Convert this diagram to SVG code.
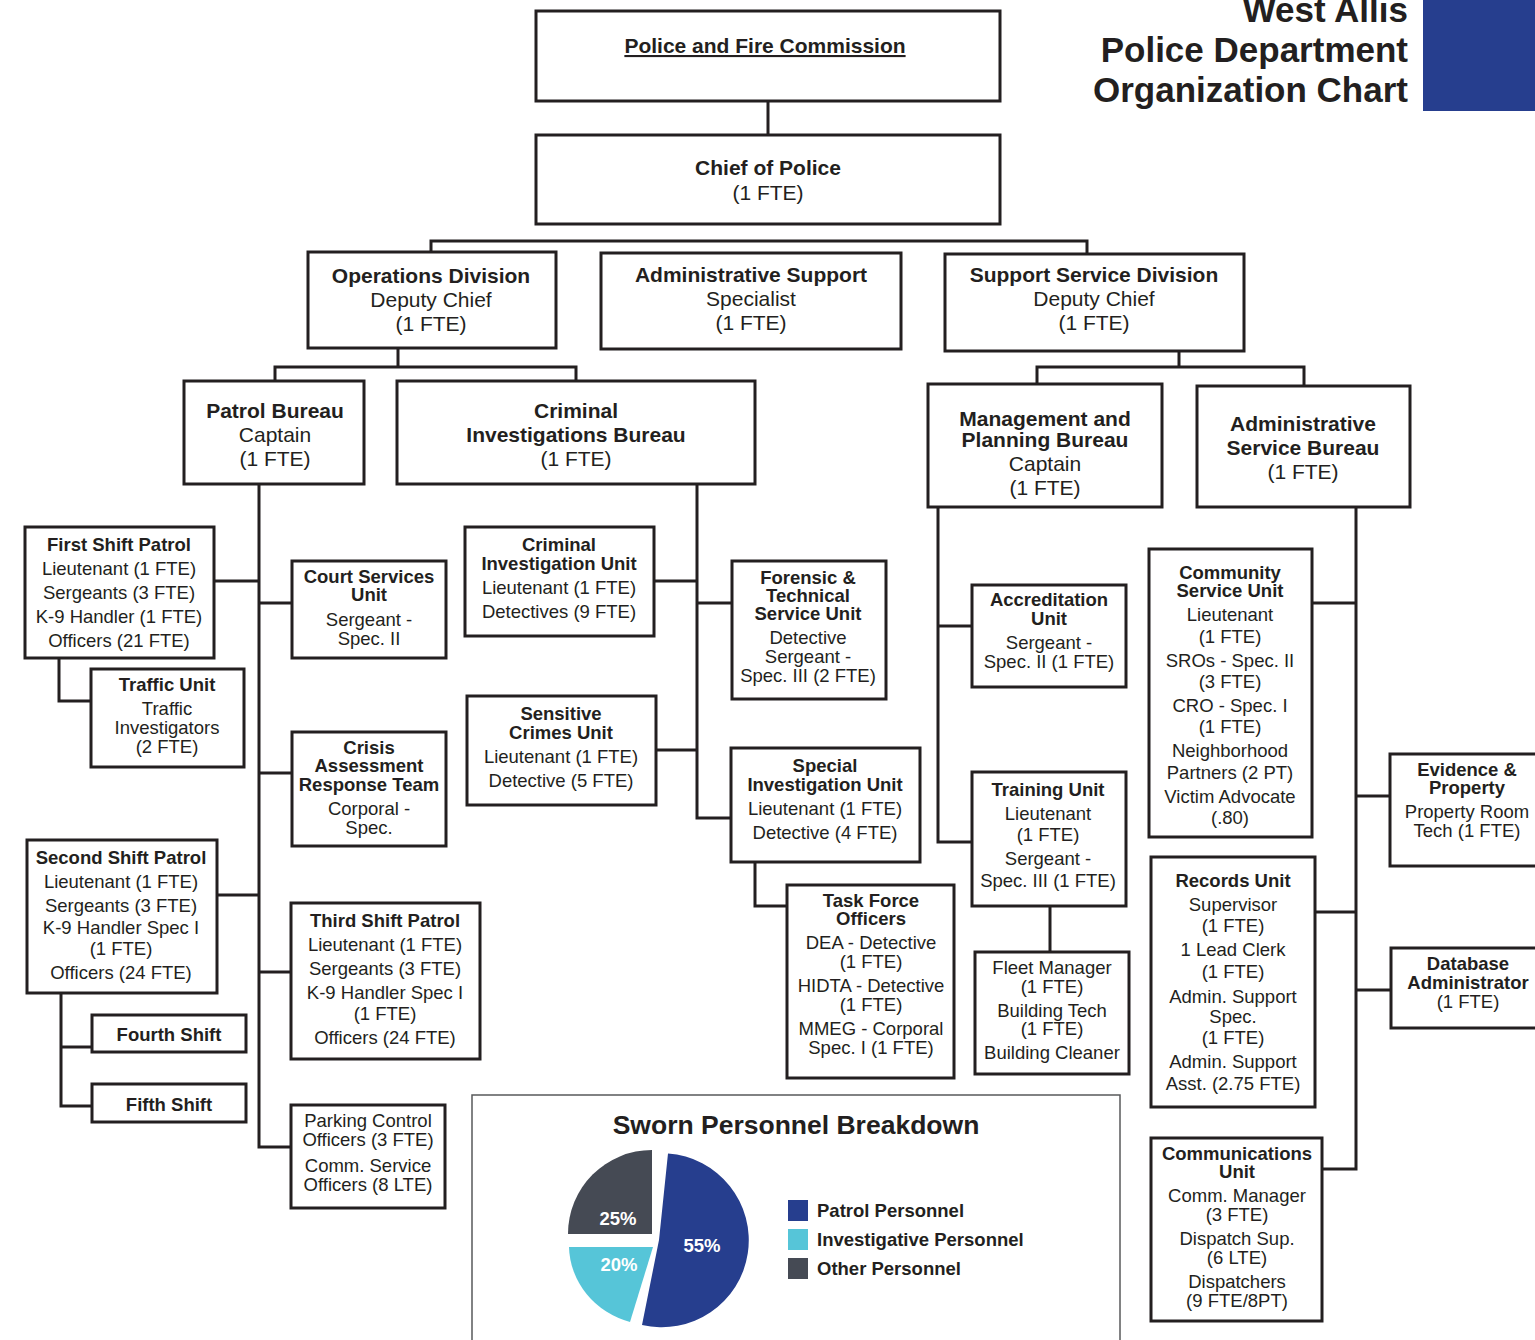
<svg xmlns="http://www.w3.org/2000/svg" width="1535" height="1340" viewBox="0 0 1535 1340">
<style>
.box{fill:#fff;stroke:#231f20;stroke-width:3}
text{font-family:"Liberation Sans",Arial,Helvetica,sans-serif;fill:#231f20;text-anchor:middle}
.b{font-weight:bold}
.s{font-size:18.5px}
.l{font-size:21px}
.conn path{fill:none;stroke:#231f20;stroke-width:3}
.w{fill:#fff;font-weight:bold;font-size:18.5px}
.leg{text-anchor:start;font-weight:bold;font-size:18.5px}
</style>
<rect width="1535" height="1340" fill="#fff"/>

<g id="title">
<rect x="1423" y="0" width="112" height="111" fill="#263e8e"/>
<text x="1408" y="22" font-size="35" font-weight="bold" style="text-anchor:end">West Allis</text>
<text x="1408" y="61.5" font-size="35" font-weight="bold" style="text-anchor:end">Police Department</text>
<text x="1408" y="101.5" font-size="35" font-weight="bold" style="text-anchor:end">Organization Chart</text>
</g>

<g class="conn">
<path d="M768,101V135"/>
<path d="M431,252V241H1087V254"/>
<path d="M398,348V367"/>
<path d="M275,381V367H576V381"/>
<path d="M1179,351V367"/>
<path d="M1037,384V367H1304V386"/>
<path d="M259,484V1147H291"/>
<path d="M214,581H259"/>
<path d="M259,603H292"/>
<path d="M259,773H292"/>
<path d="M217,895H259"/>
<path d="M259,972H291"/>
<path d="M59,658V701H91"/>
<path d="M61,993V1106H92"/>
<path d="M61,1047H92"/>
<path d="M697,484V818H731"/>
<path d="M654,581H697"/>
<path d="M697,603H732"/>
<path d="M656,750H697"/>
<path d="M755,862V906H787"/>
<path d="M938,507V842H972"/>
<path d="M938,626H972"/>
<path d="M1050,906V952"/>
<path d="M1356,507V1169H1322"/>
<path d="M1312,603H1356"/>
<path d="M1356,796H1390"/>
<path d="M1315,912H1356"/>
<path d="M1356,990H1391"/>
</g>

<g id="commission">
<rect class="box" x="536" y="11" width="464" height="90"/>
<text x="765" y="53" class="b l" text-decoration="underline">Police and Fire Commission</text>
</g>
<g id="chief">
<rect class="box" x="536" y="135" width="464" height="89"/>
<text x="768" y="175" class="b l">Chief of Police</text>
<text x="768" y="200" class="l">(1 FTE)</text>
</g>
<g id="operations">
<rect class="box" x="308" y="252" width="248" height="96"/>
<text x="431" y="283" class="b l">Operations Division</text>
<text x="431" y="307" class="l">Deputy Chief</text>
<text x="431" y="331" class="l">(1 FTE)</text>
</g>
<g id="adminsupport">
<rect class="box" x="601" y="253" width="300" height="96"/>
<text x="751" y="282" class="b l">Administrative Support</text>
<text x="751" y="306" class="l">Specialist</text>
<text x="751" y="330" class="l">(1 FTE)</text>
</g>
<g id="supportservice">
<rect class="box" x="945" y="254" width="299" height="97"/>
<text x="1094" y="282" class="b l">Support Service Division</text>
<text x="1094" y="306" class="l">Deputy Chief</text>
<text x="1094" y="330" class="l">(1 FTE)</text>
</g>
<g id="patrolbureau">
<rect class="box" x="184" y="381" width="180" height="103"/>
<text x="275" y="418" class="b l">Patrol Bureau</text>
<text x="275" y="442" class="l">Captain</text>
<text x="275" y="466" class="l">(1 FTE)</text>
</g>
<g id="cib">
<rect class="box" x="397" y="381" width="358" height="103"/>
<text x="576" y="418" class="b l">Criminal</text>
<text x="576" y="442" class="b l">Investigations Bureau</text>
<text x="576" y="466" class="l">(1 FTE)</text>
</g>
<g id="mgmt">
<rect class="box" x="928" y="384" width="234" height="123"/>
<text x="1045" y="426" class="b l">Management and</text>
<text x="1045" y="447" class="b l">Planning Bureau</text>
<text x="1045" y="471" class="l">Captain</text>
<text x="1045" y="495" class="l">(1 FTE)</text>
</g>
<g id="asb">
<rect class="box" x="1197" y="386" width="213" height="121"/>
<text x="1303" y="431" class="b l">Administrative</text>
<text x="1303" y="455" class="b l">Service Bureau</text>
<text x="1303" y="479" class="l">(1 FTE)</text>
</g>

<g id="firstshift">
<rect class="box" x="25" y="527" width="189" height="131"/>
<text x="119" y="551" class="b s">First Shift Patrol</text>
<text x="119" y="575" class="s">Lieutenant (1 FTE)</text>
<text x="119" y="599" class="s">Sergeants (3 FTE)</text>
<text x="119" y="623" class="s">K-9 Handler (1 FTE)</text>
<text x="119" y="647" class="s">Officers (21 FTE)</text>
</g>
<g id="court">
<rect class="box" x="292" y="561" width="154" height="97"/>
<text x="369" y="583" class="b s">Court Services</text>
<text x="369" y="601" class="b s">Unit</text>
<text x="369" y="626" class="s">Sergeant -</text>
<text x="369" y="645" class="s">Spec. II</text>
</g>
<g id="traffic">
<rect class="box" x="91" y="669" width="153" height="98"/>
<text x="167" y="691" class="b s">Traffic Unit</text>
<text x="167" y="715" class="s">Traffic</text>
<text x="167" y="734" class="s">Investigators</text>
<text x="167" y="753" class="s">(2 FTE)</text>
</g>
<g id="crisis">
<rect class="box" x="292" y="732" width="154" height="114"/>
<text x="369" y="754" class="b s">Crisis</text>
<text x="369" y="772" class="b s">Assessment</text>
<text x="369" y="791" class="b s">Response Team</text>
<text x="369" y="815" class="s">Corporal -</text>
<text x="369" y="834" class="s">Spec.</text>
</g>
<g id="secondshift">
<rect class="box" x="27" y="840" width="190" height="153"/>
<text x="121" y="864" class="b s">Second Shift Patrol</text>
<text x="121" y="888" class="s">Lieutenant (1 FTE)</text>
<text x="121" y="912" class="s">Sergeants (3 FTE)</text>
<text x="121" y="934" class="s">K-9 Handler Spec I</text>
<text x="121" y="955" class="s">(1 FTE)</text>
<text x="121" y="979" class="s">Officers (24 FTE)</text>
</g>
<g id="thirdshift">
<rect class="box" x="291" y="903" width="189" height="156"/>
<text x="385" y="927" class="b s">Third Shift Patrol</text>
<text x="385" y="951" class="s">Lieutenant (1 FTE)</text>
<text x="385" y="975" class="s">Sergeants (3 FTE)</text>
<text x="385" y="999" class="s">K-9 Handler Spec I</text>
<text x="385" y="1020" class="s">(1 FTE)</text>
<text x="385" y="1044" class="s">Officers (24 FTE)</text>
</g>
<g id="fourthshift">
<rect class="box" x="92" y="1015" width="154" height="37"/>
<text x="169" y="1041" class="b s">Fourth Shift</text>
</g>
<g id="fifthshift">
<rect class="box" x="92" y="1084" width="154" height="38"/>
<text x="169" y="1111" class="b s">Fifth Shift</text>
</g>
<g id="parking">
<rect class="box" x="291" y="1105" width="154" height="103"/>
<text x="368" y="1127" class="s">Parking Control</text>
<text x="368" y="1146" class="s">Officers (3 FTE)</text>
<text x="368" y="1172" class="s">Comm. Service</text>
<text x="368" y="1191" class="s">Officers (8 LTE)</text>
</g>

<g id="ciu">
<rect class="box" x="465" y="527" width="189" height="109"/>
<text x="559" y="551" class="b s">Criminal</text>
<text x="559" y="570" class="b s">Investigation Unit</text>
<text x="559" y="594" class="s">Lieutenant (1 FTE)</text>
<text x="559" y="618" class="s">Detectives (9 FTE)</text>
</g>
<g id="forensic">
<rect class="box" x="732" y="561" width="154" height="138"/>
<text x="808" y="584" class="b s">Forensic &amp;</text>
<text x="808" y="602" class="b s">Technical</text>
<text x="808" y="620" class="b s">Service Unit</text>
<text x="808" y="644" class="s">Detective</text>
<text x="808" y="663" class="s">Sergeant -</text>
<text x="808" y="682" class="s">Spec. III (2 FTE)</text>
</g>
<g id="sensitive">
<rect class="box" x="467" y="696" width="189" height="109"/>
<text x="561" y="720" class="b s">Sensitive</text>
<text x="561" y="739" class="b s">Crimes Unit</text>
<text x="561" y="763" class="s">Lieutenant (1 FTE)</text>
<text x="561" y="787" class="s">Detective (5 FTE)</text>
</g>
<g id="special">
<rect class="box" x="731" y="748" width="189" height="114"/>
<text x="825" y="772" class="b s">Special</text>
<text x="825" y="791" class="b s">Investigation Unit</text>
<text x="825" y="815" class="s">Lieutenant (1 FTE)</text>
<text x="825" y="839" class="s">Detective (4 FTE)</text>
</g>
<g id="taskforce">
<rect class="box" x="787" y="885" width="167" height="193"/>
<text x="871" y="907" class="b s">Task Force</text>
<text x="871" y="925" class="b s">Officers</text>
<text x="871" y="949" class="s">DEA - Detective</text>
<text x="871" y="968" class="s">(1 FTE)</text>
<text x="871" y="992" class="s">HIDTA - Detective</text>
<text x="871" y="1011" class="s">(1 FTE)</text>
<text x="871" y="1035" class="s">MMEG - Corporal</text>
<text x="871" y="1054" class="s">Spec. I (1 FTE)</text>
</g>

<g id="accreditation">
<rect class="box" x="972" y="585" width="154" height="102"/>
<text x="1049" y="606" class="b s">Accreditation</text>
<text x="1049" y="625" class="b s">Unit</text>
<text x="1049" y="649" class="s">Sergeant -</text>
<text x="1049" y="668" class="s">Spec. II (1 FTE)</text>
</g>
<g id="training">
<rect class="box" x="972" y="772" width="154" height="134"/>
<text x="1048" y="796" class="b s">Training Unit</text>
<text x="1048" y="820" class="s">Lieutenant</text>
<text x="1048" y="841" class="s">(1 FTE)</text>
<text x="1048" y="865" class="s">Sergeant -</text>
<text x="1048" y="887" class="s">Spec. III (1 FTE)</text>
</g>
<g id="fleet">
<rect class="box" x="975" y="952" width="154" height="122"/>
<text x="1052" y="974" class="s">Fleet Manager</text>
<text x="1052" y="993" class="s">(1 FTE)</text>
<text x="1052" y="1017" class="s">Building Tech</text>
<text x="1052" y="1035" class="s">(1 FTE)</text>
<text x="1052" y="1059" class="s">Building Cleaner</text>
</g>

<g id="community">
<rect class="box" x="1149" y="549" width="163" height="288"/>
<text x="1230" y="579" class="b s">Community</text>
<text x="1230" y="597" class="b s">Service Unit</text>
<text x="1230" y="621" class="s">Lieutenant</text>
<text x="1230" y="643" class="s">(1 FTE)</text>
<text x="1230" y="667" class="s">SROs - Spec. II</text>
<text x="1230" y="688" class="s">(3 FTE)</text>
<text x="1230" y="712" class="s">CRO - Spec. I</text>
<text x="1230" y="733" class="s">(1 FTE)</text>
<text x="1230" y="757" class="s">Neighborhood</text>
<text x="1230" y="779" class="s">Partners (2 PT)</text>
<text x="1230" y="803" class="s">Victim Advocate</text>
<text x="1230" y="824" class="s">(.80)</text>
</g>
<g id="evidence">
<rect class="box" x="1390" y="754" width="160" height="112"/>
<text x="1467" y="776" class="b s">Evidence &amp;</text>
<text x="1467" y="794" class="b s">Property</text>
<text x="1467" y="818" class="s">Property Room</text>
<text x="1467" y="837" class="s">Tech (1 FTE)</text>
</g>
<g id="records">
<rect class="box" x="1151" y="857" width="164" height="250"/>
<text x="1233" y="887" class="b s">Records Unit</text>
<text x="1233" y="911" class="s">Supervisor</text>
<text x="1233" y="932" class="s">(1 FTE)</text>
<text x="1233" y="956" class="s">1 Lead Clerk</text>
<text x="1233" y="978" class="s">(1 FTE)</text>
<text x="1233" y="1003" class="s">Admin. Support</text>
<text x="1233" y="1023" class="s">Spec.</text>
<text x="1233" y="1044" class="s">(1 FTE)</text>
<text x="1233" y="1068" class="s">Admin. Support</text>
<text x="1233" y="1090" class="s">Asst. (2.75 FTE)</text>
</g>
<g id="database">
<rect class="box" x="1391" y="948" width="160" height="80"/>
<text x="1468" y="970" class="b s">Database</text>
<text x="1468" y="989" class="b s">Administrator</text>
<text x="1468" y="1008" class="s">(1 FTE)</text>
</g>
<g id="communications">
<rect class="box" x="1151" y="1138" width="171" height="183"/>
<text x="1237" y="1160" class="b s">Communications</text>
<text x="1237" y="1178" class="b s">Unit</text>
<text x="1237" y="1202" class="s">Comm. Manager</text>
<text x="1237" y="1221" class="s">(3 FTE)</text>
<text x="1237" y="1245" class="s">Dispatch Sup.</text>
<text x="1237" y="1264" class="s">(6 LTE)</text>
<text x="1237" y="1288" class="s">Dispatchers</text>
<text x="1237" y="1307" class="s">(9 FTE/8PT)</text>
</g>

<g id="breakdown">
<rect x="472" y="1095" width="648" height="260" fill="#fff" stroke="#58595b" stroke-width="1.5"/>
<text x="796" y="1134" font-size="26.5" font-weight="bold">Sworn Personnel Breakdown</text>
<path d="M659,1240L668,1153.5A87,87 0 1,1 642,1325Z" fill="#263e8e"/>
<path d="M652,1234L568,1234A84,84 0 0,1 652,1150Z" fill="#454a54"/>
<path d="M653,1247L630,1322A84,80 0 0,1 569,1247Z" fill="#56c5d8"/>
<text x="702" y="1251.5" class="w">55%</text>
<text x="618" y="1224.5" class="w">25%</text>
<text x="619" y="1270.5" class="w">20%</text>
<rect x="788" y="1200" width="20" height="21" fill="#263e8e"/>
<rect x="788" y="1229" width="20" height="21" fill="#56c5d8"/>
<rect x="788" y="1258" width="20" height="21" fill="#454a54"/>
<text x="817" y="1216.7" class="leg">Patrol Personnel</text>
<text x="817" y="1245.7" class="leg">Investigative Personnel</text>
<text x="817" y="1274.7" class="leg">Other Personnel</text>
</g>
</svg>
